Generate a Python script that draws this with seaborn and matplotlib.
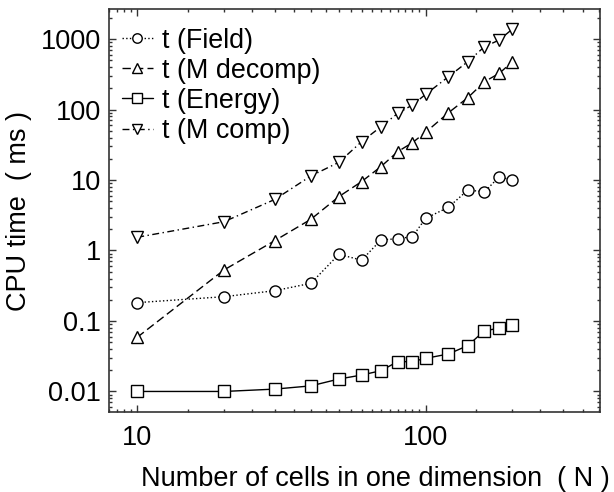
import numpy as np
import pandas as pd
import seaborn as sns
from matplotlib import pyplot as plt
from matplotlib.ticker import LogLocator, FixedLocator, FixedFormatter, NullFormatter

# Anzahl Zellen pro Dimension
n_cells = [10, 20, 30, 40, 50, 60, 70, 80, 90, 100, 120, 140, 160, 180, 200]

# Rechenzeiten in ms
t_field = [0.182, 0.221, 0.269, 0.342, 0.88, 0.73, 1.41, 1.47, 1.57, 2.86,
           4.1, 7.2, 6.8, 11.1, 10.0]
t_m_decomp = [0.0587, 0.53, 1.38, 2.77, 5.8, 9.5, 15.5, 25.2, 33.9, 47.5,
              90, 147, 248, 326, 476]
t_energy = [0.0100, 0.0100, 0.0108, 0.0120, 0.0150, 0.0171, 0.0197, 0.0265,
            0.0265, 0.0295, 0.034, 0.0447, 0.0728, 0.0787, 0.087]
t_m_comp = [1.54, 2.56, 5.3, 11.4, 17.8, 35, 57, 88, 116, 164,
            292, 477, 778, 968, 1387]

y_ticks = [0.01, 0.1, 1, 10, 100, 1000]
y_tick_labels = ['0.01', '0.1', '1', '10', '100', '1000']
x_ticks = [10, 100]
x_tick_labels = ['10', '100']

sns.set_theme(style="ticks")
plt.rcParams['font.family'] = ['Liberation Sans', 'DejaVu Sans']
plt.rcParams['text.color'] = 'black'
plt.rcParams['axes.labelcolor'] = 'black'

fig = plt.figure(figsize=(6.14, 4.92), dpi=100)
ax = fig.add_axes([0.178, 0.1616, 0.799, 0.8195])

serien = [
    ('t (Field)', t_field, 'o', ':'),
    ('t (M decomp)', t_m_decomp, '^', (0, (6, 3))),
    ('t (Energy)', t_energy, 's', '-'),
    ('t (M comp)', t_m_comp, 'v', (0, (5, 2.5, 1, 2.5))),
]

for name, werte, marker, ls in serien:
    df = pd.DataFrame({'N': n_cells, 't': werte})
    sns.lineplot(data=df, x='N', y='t', ax=ax, color='black',
                 marker=marker, markersize=8, markerfacecolor='white',
                 markeredgecolor='black', markeredgewidth=1.0,
                 linestyle=ls, linewidth=1.0, label=name)

ax.set_xscale('log')
ax.set_yscale('log')
ax.set_xlim(8, 402)
ax.set_ylim(0.00503, 2640)

ax.xaxis.set_major_locator(FixedLocator(x_ticks))
ax.xaxis.set_major_formatter(FixedFormatter(x_tick_labels))
ax.xaxis.set_minor_locator(LogLocator(base=10, subs=np.arange(1, 10, 0.5)[1:], numticks=20))
ax.xaxis.set_minor_formatter(NullFormatter())
ax.yaxis.set_major_locator(FixedLocator(y_ticks))
ax.yaxis.set_major_formatter(FixedFormatter(y_tick_labels))
ax.yaxis.set_minor_locator(LogLocator(base=10, subs=np.arange(2, 10), numticks=20))
ax.yaxis.set_minor_formatter(NullFormatter())

ax.tick_params(which='both', direction='in', top=True, right=True,
               colors='#333333', labelcolor='black', width=1.0)
ax.tick_params(which='major', length=5, labelsize=19.5)
ax.tick_params(axis='y', which='major', pad=6)
ax.tick_params(axis='x', which='major', pad=9)
ax.tick_params(which='minor', length=2.5)
for sp in ax.spines.values():
    sp.set_color('#333333')
    sp.set_linewidth(1.2)

ax.set_xlabel('Number of cells in one dimension  ( N )', fontsize=19.5, color='black')
ax.xaxis.set_label_coords(0.5415, -0.132)
ax.set_ylabel('CPU time  ( ms )', fontsize=19.5, color='black', labelpad=6)

leg = ax.legend(loc='upper left', bbox_to_anchor=(0.025, 0.954), frameon=False,
                fontsize=19.4, handlelength=1.18, handletextpad=0.32,
                labelspacing=0.15, borderaxespad=0, borderpad=0, markerscale=0.85)
for txt in leg.get_texts():
    txt.set_color('black')

plt.savefig('out.png', dpi=100)
